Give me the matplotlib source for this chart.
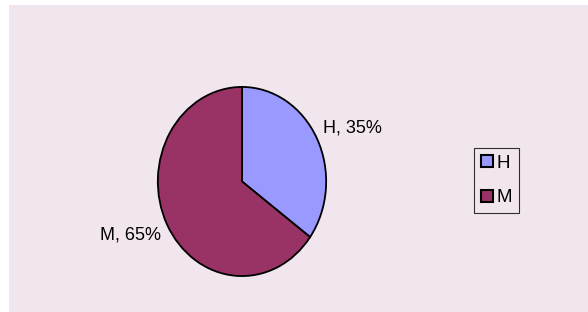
import matplotlib
matplotlib.use("Agg")
import matplotlib.pyplot as plt

categories = ["H", "M"]
values = [35, 65]
colors = ["#9999FF", "#993366"]

plt.rcParams["font.family"] = ["Liberation Sans", "DejaVu Sans"]

W, H = 588, 312
fig = plt.figure(figsize=(W / 100, H / 100), dpi=100)
fig.patch.set_facecolor("white")

# background panel
bg = fig.add_axes([9 / W, 0, 1 - 9 / W, 1 - 5 / H], zorder=-5)
bg.set_facecolor("#F2E6EE")
bg.axis("off")
bg.add_patch(plt.Rectangle((0, 0), 1, 1, transform=bg.transAxes, facecolor="#F2E6EE", edgecolor="none"))

ax = fig.add_axes([157 / W, (H - 277) / H, 170 / W, 191 / H], zorder=1)
ax.set_facecolor("none")
wedges, texts = ax.pie(values, labels=[f"{c}, {v}%" for c, v in zip(categories, values)],
                       colors=colors, startangle=90, counterclock=False,
                       labeldistance=1.08,
                       wedgeprops=dict(edgecolor="black", linewidth=1.3),
                       textprops=dict(fontsize=13, color="black"))
ax.set_aspect("auto")
ax.set_xlim(-1.01, 1.01)
ax.set_ylim(-1.01, 1.01)
for t in texts:
    x, y = t.get_position()
    t.set_position((x, y + (0.08 if y > 0 else -0.08)))
    t.set_clip_on(False)

leg = fig.legend(wedges, categories, loc="upper left", bbox_to_anchor=(474 / W, 1 - 148 / H),
                 frameon=True, fancybox=False, fontsize=13.5, handlelength=0.65, handleheight=0.65,
                 handletextpad=0.2, borderpad=0.35, labelspacing=0.95, borderaxespad=0)
leg.get_frame().set_edgecolor("black")
leg.get_frame().set_facecolor("#F2E6EE")
leg.get_frame().set_linewidth(0.8)
for h in leg.legend_handles:
    h.set_linewidth(1.5)

fig.savefig("out.png", dpi=100)
